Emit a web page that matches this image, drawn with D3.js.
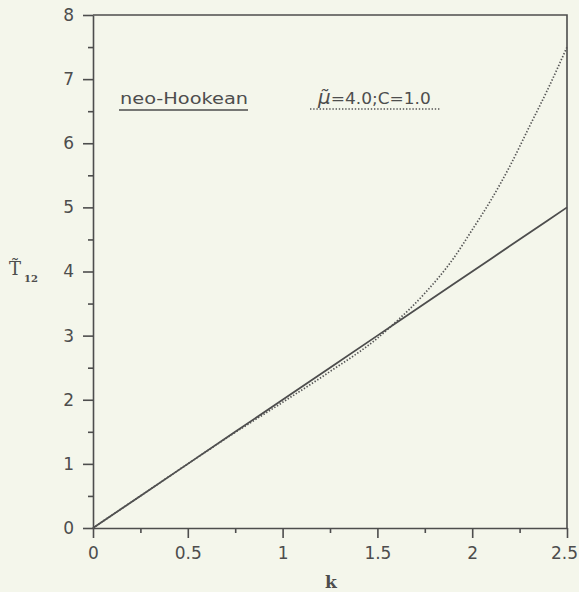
<!DOCTYPE html>
<html>
<head>
<meta charset="utf-8">
<script src="https://cdn.jsdelivr.net/npm/d3@7"></script>
<style>
  body { margin: 0; background: #f4f6eb; }
  svg { display: block; }
  .axis path, .axis line { stroke: #4d4d4d; stroke-width: 1.6; }
  .axis text { font-family: "DejaVu Sans", sans-serif; font-size: 17px; fill: #4d4d4d; }
</style>
</head>
<body>
<div id="chart"></div>
<script>
// data
var kValues    = [0, 0.25, 0.5, 0.75, 1.0, 1.25, 1.5, 1.6, 1.75, 1.9, 2.0, 2.1, 2.2, 2.3, 2.4, 2.5];
var neoHookean = [0, 0.5, 1.0, 1.5, 2.0, 2.5, 3.0, 3.2, 3.5, 3.8, 4.0, 4.2, 4.4, 4.6, 4.8, 5.0];
var muModel    = [0, 0.5, 1.0, 1.49, 1.96, 2.44, 2.96, 3.22, 3.66, 4.2, 4.65, 5.12, 5.65, 6.25, 6.85, 7.5];
var xTicks = [0, 0.5, 1, 1.5, 2, 2.5];
var yTicks = [0, 1, 2, 3, 4, 5, 6, 7, 8];
var xMinor = [0.25, 0.75, 1.25, 1.75, 2.25];
var yMinor = [0.5, 1.5, 2.5, 3.5, 4.5, 5.5, 6.5, 7.5];

var margin = {top: 15, right: 12, bottom: 64, left: 93},
    width = 579 - margin.left - margin.right,
    height = 592 - margin.top - margin.bottom;

var svg = d3.select("#chart")
  .append("svg")
    .attr("width", 579)
    .attr("height", 592);

var g = svg.append("g")
    .attr("transform", "translate(" + margin.left + "," + margin.top + ")");

var x = d3.scaleLinear().domain([0, 2.5]).range([0, width]);
var y = d3.scaleLinear().domain([0, 8]).range([height, 0]);

// minor ticks
g.append("g")
  .attr("class", "axis")
  .attr("transform", "translate(0," + height + ")")
  .call(d3.axisBottom(x).tickValues(xMinor).tickSize(5).tickFormat(""))
  .select(".domain").remove();
g.append("g")
  .attr("class", "axis")
  .call(d3.axisLeft(y).tickValues(yMinor).tickSize(5).tickFormat(""))
  .select(".domain").remove();

// major axes
var xAxis = g.append("g")
  .attr("class", "axis")
  .attr("transform", "translate(0," + height + ")")
  .call(d3.axisBottom(x).tickValues(xTicks).tickSize(10).tickSizeOuter(0).tickPadding(9)
    .tickFormat(function(d) { return d; }));
// last label sits at the very edge of the page
xAxis.selectAll(".tick text").filter(function(d) { return d === 2.5; }).attr("dx", -3);

g.append("g")
  .attr("class", "axis")
  .call(d3.axisLeft(y).tickValues(yTicks).tickSize(10).tickSizeOuter(0).tickPadding(9));

// frame top / right
g.append("path")
  .attr("d", "M0,0H" + width + "V" + height)
  .attr("fill", "none")
  .attr("stroke", "#4d4d4d")
  .attr("stroke-width", 1.6);

var line = d3.line()
  .x(function(d) { return x(d[0]); })
  .y(function(d) { return y(d[1]); });

var lineCurve = d3.line()
  .curve(d3.curveMonotoneX)
  .x(function(d) { return x(d[0]); })
  .y(function(d) { return y(d[1]); });

g.append("path")
  .datum(d3.zip(kValues, neoHookean))
  .attr("d", line)
  .attr("fill", "none")
  .attr("stroke", "#4d4d4d")
  .attr("stroke-width", 1.8);

g.append("path")
  .datum(d3.zip(kValues, muModel))
  .attr("d", lineCurve)
  .attr("fill", "none")
  .attr("stroke", "#555")
  .attr("stroke-width", 1.7)
  .attr("stroke-dasharray", "1.4,1.8");

// legend
var leg = svg.append("g").attr("font-family", "DejaVu Sans, sans-serif").attr("font-size", 16).attr("fill", "#4d4d4d");
leg.append("text")
  .attr("x", 120).attr("y", 104)
  .attr("textLength", 128).attr("lengthAdjust", "spacingAndGlyphs")
  .text("neo-Hookean");
leg.append("line")
  .attr("x1", 119).attr("x2", 248).attr("y1", 110).attr("y2", 110)
  .attr("stroke", "#4d4d4d").attr("stroke-width", 1.6);

var t2 = leg.append("text")
  .attr("x", 318).attr("y", 104);
t2.append("tspan").attr("font-style", "italic").attr("font-size", 20).text("μ\u0303");
t2.append("tspan").attr("textLength", 100).attr("lengthAdjust", "spacingAndGlyphs").text("=4.0;C=1.0");
leg.append("line")
  .attr("x1", 310).attr("x2", 440).attr("y1", 109).attr("y2", 109)
  .attr("stroke", "#555").attr("stroke-width", 1.6)
  .attr("stroke-dasharray", "1.4,1.8");

// axis titles
svg.append("text")
  .attr("x", 331).attr("y", 588)
  .attr("text-anchor", "middle")
  .attr("font-family", "DejaVu Serif, serif")
  .attr("font-weight", "bold")
  .attr("font-size", 17)
  .attr("fill", "#4d4d4d")
  .text("k");

var yl = svg.append("text")
  .attr("x", 9).attr("y", 275)
  .attr("font-family", "DejaVu Serif, serif")
  .attr("font-size", 18)
  .attr("fill", "#4d4d4d");
yl.append("tspan").text("T\u0303");
yl.append("tspan").attr("font-size", 10).attr("font-weight", "bold").attr("dx", 3).attr("dy", 7).text("12");
</script>
</body>
</html>
